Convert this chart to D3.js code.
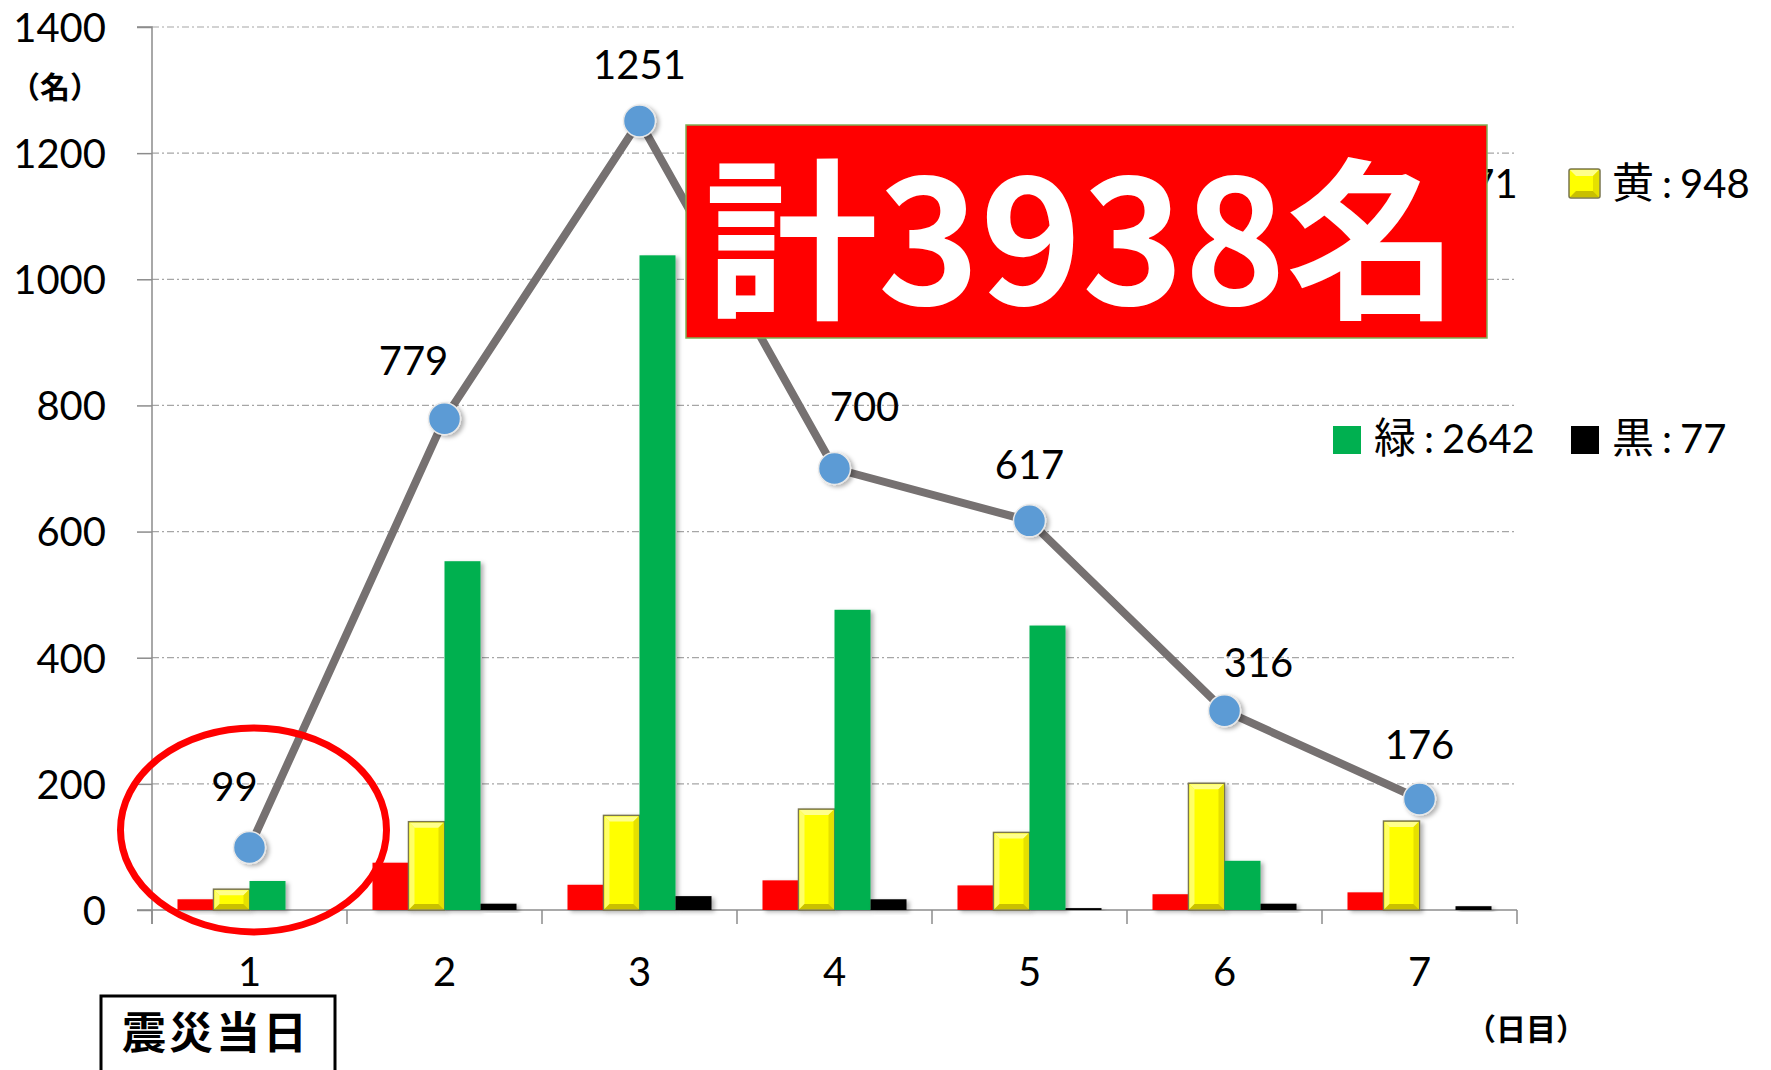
<!DOCTYPE html>
<html><head><meta charset="utf-8">
<script src="https://cdn.jsdelivr.net/npm/d3@7"></script>
<style>body{margin:0;background:#fff}</style>
</head><body>
<svg id="c" width="1771" height="1070"></svg>
<script>
// ---- data ----
const days = ['1','2','3','4','5','6','7'];
const seriesNames = ['赤','黄','緑','黒'];
const red    = [17, 75, 40, 47, 39, 25, 28];
const yellow = [33, 140, 150, 160, 123, 201, 141];
const green  = [46, 553, 1038, 476, 451, 78, 0];
const black  = [0, 10, 22, 17, 3, 10, 6];
const totals = [99, 779, 1251, 700, 617, 316, 176];
const yTicks = [0, 200, 400, 600, 800, 1000, 1200, 1400];
const legendTotals = [271, 948, 2642, 77];
const grandTotal = 3938;
const yUnit = '（名）';
const xUnit = '（日目）';
const dayOneNote = '震災当日';

// ---- drawing ----
const svg = d3.select('#c');
const colors = {'赤':'#FF0000','黄':'#FFFF00','緑':'#00B050','黒':'#000000'};
const seriesVals = {'赤':red,'黄':yellow,'緑':green,'黒':black};
const numFont = "Lato, 'Noto Sans CJK JP', sans-serif";
const cjkFont = "'Noto Sans CJK JP', sans-serif";

const L = 152, R = 1517, T = 27, B = 910;
const x = d3.scaleBand().domain(days).range([L, R]).paddingInner(0).paddingOuter(0);
const xs = d3.scaleBand().domain(seriesNames).range([0, x.bandwidth()]).paddingInner(0).paddingOuter(0.708);
const y = d3.scaleLinear().domain([0, 1400]).range([B, T]);

const defs = svg.append('defs');
const f = defs.append('filter').attr('id','sh').attr('x','-20%').attr('y','-20%').attr('width','160%').attr('height','160%');
f.append('feDropShadow').attr('dx',3).attr('dy',2).attr('stdDeviation',2).attr('flood-color','#000').attr('flood-opacity',0.3);

// gridlines
svg.append('g').selectAll('line').data(yTicks.filter(d=>d>0)).join('line')
  .attr('x1', L).attr('x2', R).attr('y1', d=>y(d)).attr('y2', d=>y(d))
  .attr('stroke','#a6a6a6').attr('stroke-width',1.2).attr('stroke-dasharray','7,3,2,3');

// y axis
const ya = svg.append('g').attr('transform',`translate(${L},0)`)
  .call(d3.axisLeft(y).tickValues(yTicks).tickSize(15).tickPadding(31).tickFormat(d3.format('d')));
ya.select('.domain').attr('stroke','#8c8c8c').attr('stroke-width',1.5).attr('d',`M-15,${T}H0V${B+14}`);
ya.selectAll('.tick line').attr('stroke','#8c8c8c').attr('stroke-width',1.5);
ya.selectAll('.tick text').attr('font-family',numFont).attr('font-size',40).attr('fill','#000').attr('dy','0.36em');

// x axis
const xa = svg.append('g').attr('transform',`translate(0,${B})`)
  .call(d3.axisBottom(x).tickSize(0).tickPadding(0));
xa.select('.domain').attr('stroke','#8c8c8c').attr('stroke-width',1.5).attr('d',`M${L-15},0H${R}`);
xa.selectAll('.tick text').attr('font-family',numFont).attr('font-size',40).attr('fill','#000').attr('y',76).attr('dy',0);
svg.append('g').selectAll('line').data(d3.range(days.length+1)).join('line')
  .attr('x1', i=>L + i*x.step()).attr('x2', i=>L + i*x.step())
  .attr('y1', B).attr('y2', B+14).attr('stroke','#8c8c8c').attr('stroke-width',1.5);

// bars
const barG = svg.append('g');
seriesNames.forEach(s=>{
  const vals = seriesVals[s];
  days.forEach((d,i)=>{
    const v = vals[i];
    if (v <= 0) return;
    const x0 = x(d) + xs(s), w = xs.bandwidth();
    const y0 = y(v), h = y(0) - y(v);
    const g = barG.append('g').attr('filter','url(#sh)');
    if (s === '黄') {
      g.append('rect').attr('x',x0).attr('y',y0).attr('width',w).attr('height',h)
        .attr('fill',colors[s]).attr('stroke','#7a7650').attr('stroke-width',1.5);
      const b = Math.min(6, h/2), x1 = x0+w, y1 = y0+h;
      const poly = (pts, c) => g.append('polygon').attr('points', pts.map(p=>p.join(',')).join(' ')).attr('fill',c);
      poly([[x0+1,y0+1],[x1-1,y0+1],[x1-b,y0+b],[x0+b,y0+b]], '#ffff8c');
      poly([[x0+1,y0+1],[x0+b,y0+b],[x0+b,y1-b],[x0+1,y1-1]], '#ffff66');
      poly([[x1-1,y0+1],[x1-1,y1-1],[x1-b,y1-b],[x1-b,y0+b]], '#e6e000');
      poly([[x0+1,y1-1],[x1-1,y1-1],[x1-b,y1-b],[x0+b,y1-b]], '#c9c000');
    } else {
      g.append('rect').attr('x',x0).attr('y',y0).attr('width',w).attr('height',h).attr('fill',colors[s]);
    }
  });
});

// total line
const cx = (d)=> x(d) + x.bandwidth()/2;
svg.append('path').datum(totals)
  .attr('d', d3.line().x((d,i)=>cx(days[i])).y(d=>y(d)))
  .attr('fill','none').attr('stroke','#767171').attr('stroke-width',8).attr('stroke-linejoin','round');
svg.append('g').selectAll('circle').data(totals).join('circle')
  .attr('cx',(d,i)=>cx(days[i])).attr('cy',d=>y(d)).attr('r',16)
  .attr('fill','#5B9BD5').attr('stroke','#e8e8e8').attr('stroke-width',1.5).attr('filter','url(#sh)');
const labelDx = [-15,-31,0,30,0,34,0];
const labelDy = [-47,-44,-42,-48,-42,-34,-40];
svg.append('g').selectAll('text').data(totals).join('text')
  .attr('x',(d,i)=>cx(days[i]) + labelDx[i]).attr('y',(d,i)=>y(d) + labelDy[i])
  .attr('text-anchor','middle').attr('font-family',numFont).attr('font-size',40).attr('fill','#000')
  .text(d=>d);

// legend
const legPos = [[1339,169,198],[1569,169,198],[1333,426,453],[1571,426,453]];
seriesNames.forEach((s,i)=>{
  const [lx, ly, base] = legPos[i];
  const sw = 28;
  if (s === '黄') {
    const g = svg.append('g');
    g.append('rect').attr('x',lx).attr('y',ly).attr('width',31).attr('height',29).attr('fill','#FFFF00').attr('stroke','#7a7650').attr('stroke-width',1.5).attr('rx',2);
    const x0=lx,y0=ly,x1=lx+31,y1=ly+29,b=7;
    const poly = (pts, c) => g.append('polygon').attr('points', pts.map(p=>p.join(',')).join(' ')).attr('fill',c);
    poly([[x0+1,y0+1],[x1-1,y0+1],[x1-b,y0+b],[x0+b,y0+b]], '#ffff8c');
    poly([[x1-1,y0+1],[x1-1,y1-1],[x1-b,y1-b],[x1-b,y0+b]], '#e6e000');
    poly([[x0+1,y1-1],[x1-1,y1-1],[x1-b,y1-b],[x0+b,y1-b]], '#c9c000');
  } else {
    svg.append('rect').attr('x',lx).attr('y',ly).attr('width',sw).attr('height',sw).attr('fill',colors[s]);
  }
  const t = svg.append('text').attr('x', lx + (s==='黄'?43:41)).attr('y', base)
    .attr('font-family',numFont).attr('font-size',40).attr('fill','#000');
  t.append('tspan').attr('font-family',cjkFont).attr('font-size',42).text(s);
  t.append('tspan').attr('dx',8).text(':');
  t.append('tspan').attr('dx',8).text(legendTotals[i]);
});

// axis unit labels
svg.append('text').attr('x',10).attr('y',98).attr('font-family',cjkFont).attr('font-weight',700)
  .attr('font-size',30).attr('fill','#000').text(yUnit);
svg.append('text').attr('x',1466).attr('y',1040).attr('font-family',cjkFont).attr('font-weight',700)
  .attr('font-size',30).attr('fill','#000').text(xUnit);

// day-one highlight ellipse
svg.append('ellipse').attr('cx', cx(days[0]) + 4).attr('cy', y(127)).attr('rx',133).attr('ry',102)
  .attr('fill','none').attr('stroke','#FF0000').attr('stroke-width',7);

// day-one note box
svg.append('rect').attr('x',101).attr('y',996).attr('width',234).attr('height',100)
  .attr('fill','#fff').attr('stroke','#000').attr('stroke-width',3);
svg.append('text').attr('x',216).attr('y',1049).attr('text-anchor','middle')
  .attr('font-family',cjkFont).attr('font-weight',700).attr('font-size',44).attr('letter-spacing',3)
  .attr('fill','#000').text(dayOneNote);

// total box
svg.append('rect').attr('x',686).attr('y',125).attr('width',801).attr('height',213)
  .attr('fill','#FF0000').attr('stroke','#7fae55').attr('stroke-width',1.5);
svg.append('text').attr('x',1082).attr('y',305).attr('text-anchor','middle')
  .attr('font-family',cjkFont).attr('font-weight',700).attr('font-size',173).attr('fill','#fff')
  .text('計' + grandTotal + '名');
</script></body></html>
